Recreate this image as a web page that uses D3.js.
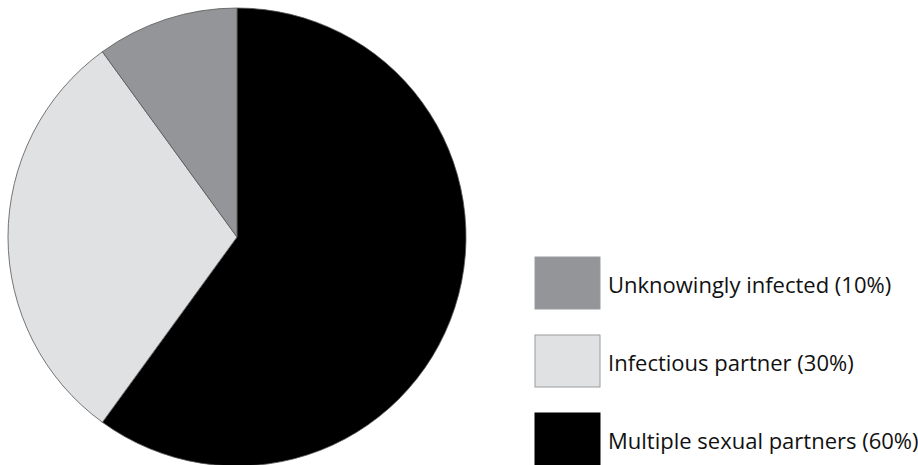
<!DOCTYPE html>
<html>
<head>
<meta charset="utf-8">
<script src="https://cdn.jsdelivr.net/npm/d3@7/dist/d3.min.js"></script>
<style>
  html, body { margin: 0; padding: 0; background: #fff; }
  svg { display: block; }
</style>
</head>
<body>
<svg id="chart" width="918" height="465"></svg>
<script>
// Transmission routes and their shares (percent)
const categories = ["Multiple sexual partners", "Infectious partner", "Unknowingly infected"];
const values = [60, 30, 10];
const colors = ["#000000", "#e0e1e3", "#939598"];
// Legend lists the smallest share first
const legendOrder = ["Unknowingly infected", "Infectious partner", "Multiple sexual partners"];

const data = categories.map((c, i) => ({ name: c, value: values[i], color: colors[i] }));

const svg = d3.select("#chart");
const cx = 237, cy = 237, radius = 229;

const pie = d3.pie().value(d => d.value).sort(null).startAngle(0).endAngle(2 * Math.PI);
const arc = d3.arc().innerRadius(0).outerRadius(radius);

const g = svg.append("g").attr("transform", `translate(${cx},${cy})`);
g.selectAll("path")
  .data(pie(data))
  .join("path")
  .attr("d", arc)
  .attr("fill", d => d.data.color)
  .attr("stroke", "#555")
  .attr("stroke-width", 0.8);

// Legend: swatch plus label with percentage
const legendY = d3.scalePoint().domain(legendOrder).range([257, 413]);
const byName = new Map(data.map(d => [d.name, d]));

const leg = svg.append("g");
const items = leg.selectAll("g")
  .data(legendOrder)
  .join("g")
  .attr("transform", n => `translate(535,${legendY(n)})`);

items.append("rect")
  .attr("width", 65)
  .attr("height", 52)
  .attr("fill", n => byName.get(n).color)
  .attr("stroke", n => byName.get(n).value === 60 ? "#000" : "#9a9b9d")
  .attr("stroke-width", 1);

items.append("text")
  .attr("x", 73)
  .attr("y", 36)
  .attr("font-family", "'Liberation Sans Narrow', 'Open Sans', sans-serif")
  .attr("font-size", 22)
  .attr("fill", "#111")
  .text(n => `${n} (${byName.get(n).value}%)`);
</script>
</body>
</html>
